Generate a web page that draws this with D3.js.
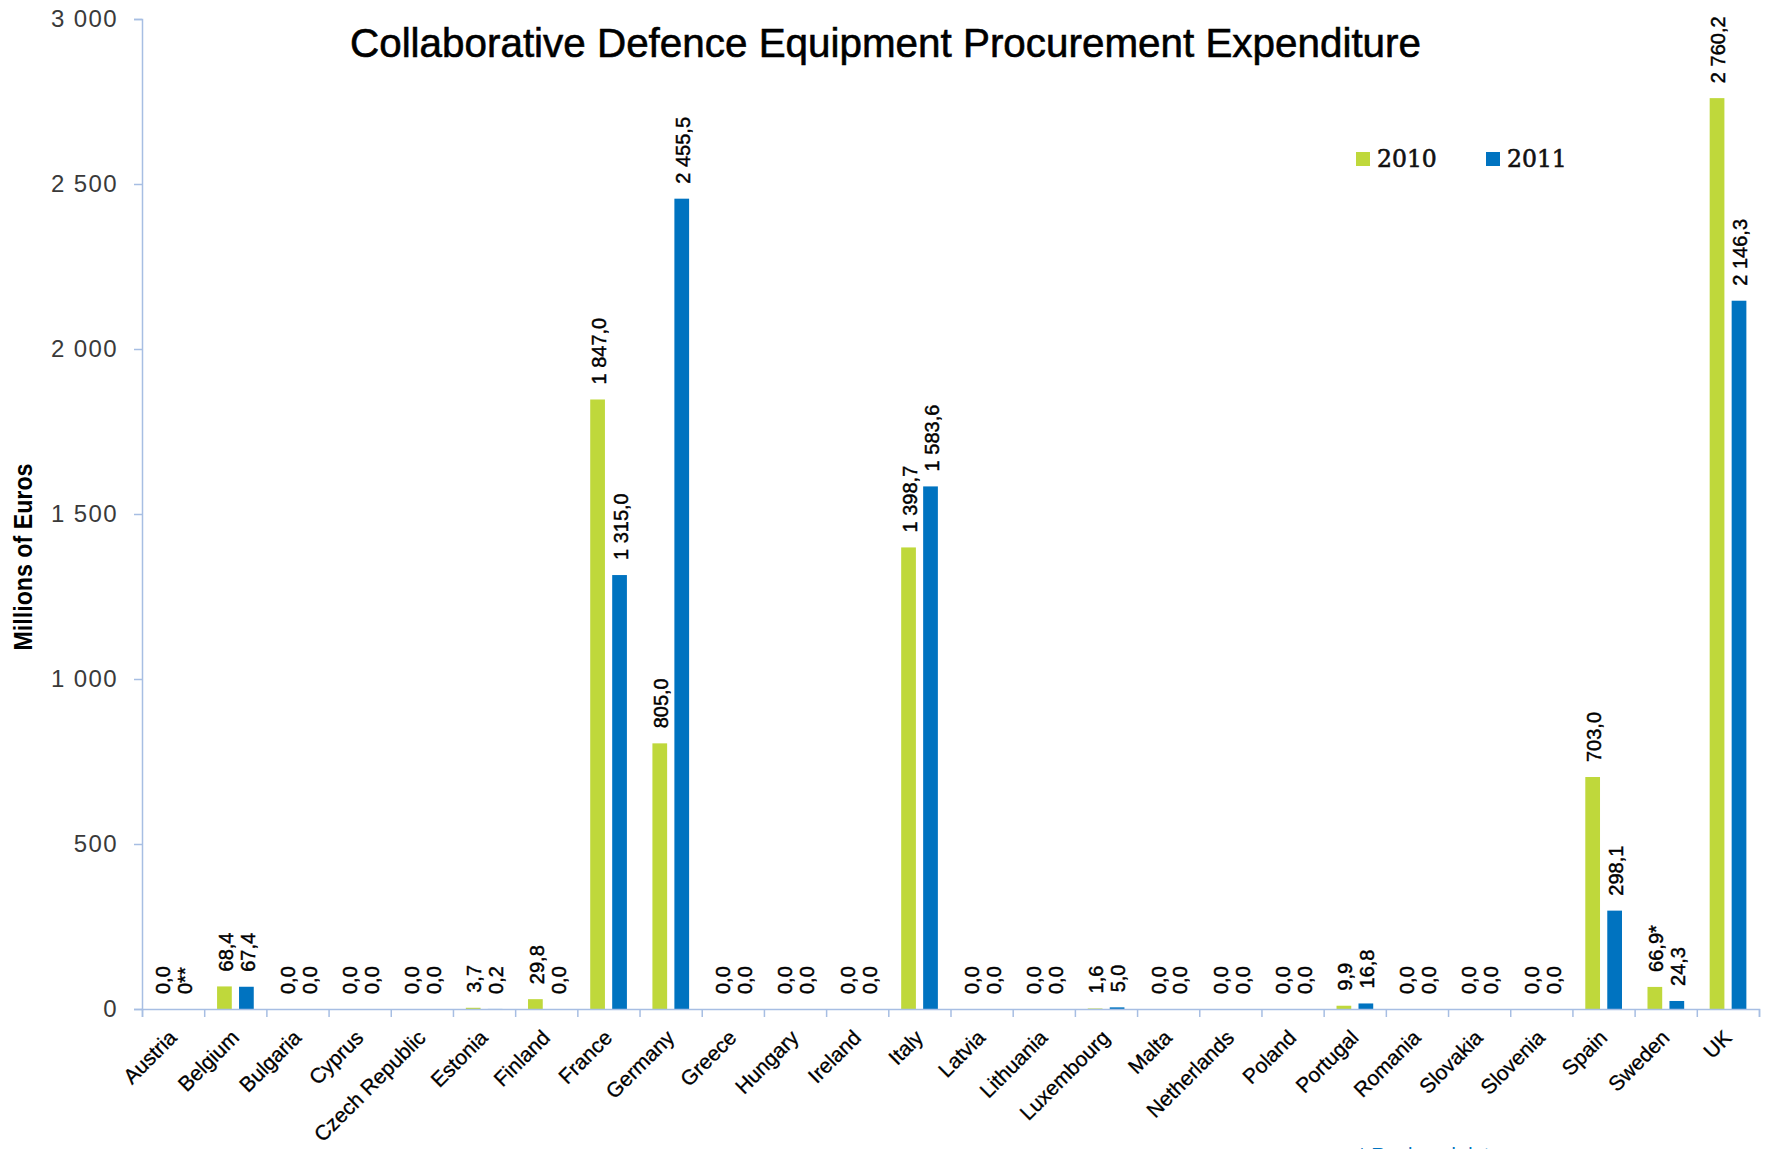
<!DOCTYPE html>
<html>
<head>
<meta charset="utf-8">
<script src="https://cdn.jsdelivr.net/npm/d3@7"></script>
<style>
  html, body { margin: 0; padding: 0; background: #fff; overflow: hidden; }
  svg { display: block; }
</style>
</head>
<body>
<svg id="chart" width="1765" height="1149"></svg>
<script>
const countries = ["Austria","Belgium","Bulgaria","Cyprus","Czech Republic","Estonia","Finland","France","Germany","Greece","Hungary","Ireland","Italy","Latvia","Lithuania","Luxembourg","Malta","Netherlands","Poland","Portugal","Romania","Slovakia","Slovenia","Spain","Sweden","UK"];
const values2010 = [0, 68.4, 0, 0, 0, 3.7, 29.8, 1847.0, 805.0, 0, 0, 0, 1398.7, 0, 0, 1.6, 0, 0, 0, 9.9, 0, 0, 0, 703.0, 66.9, 2760.2];
const values2011 = [0, 67.4, 0, 0, 0, 0.2, 0.0, 1315.0, 2455.5, 0, 0, 0, 1583.6, 0, 0, 5.0, 0, 0, 0, 16.8, 0, 0, 0, 298.1, 24.3, 2146.3];
const labelOverrides2010 = { "Sweden": "66,9*" };
const labelOverrides2011 = { "Austria": "0**" };
const seriesNames = ["2010", "2011"];
const yTicks = [0, 500, 1000, 1500, 2000, 2500, 3000];
const titleText = "Collaborative Defence Equipment Procurement Expenditure";
const yAxisTitle = "Millions of Euros";
const footnote = "* Replaced data";

(function () {
const colors = { "2010": "#bfd83b", "2011": "#0073c0" };
const axisColor = "#a7bee3";

const svg = d3.select("#chart");
const plotLeft = 142, plotRight = 1759, plotTop = 19, plotBottom = 1009;

const x0 = d3.scaleBand().domain(countries).range([plotLeft, plotRight]).padding(0);
const step = x0.step();
const x1 = d3.scaleBand().domain(seriesNames)
  .range([step * 0.207, step * 0.797]).paddingInner(0.33).paddingOuter(0);
const y = d3.scaleLinear().domain([0, 3000]).range([plotBottom, plotTop]);

const loc = d3.formatLocale({ decimal: ",", thousands: "\u00a0", grouping: [3], currency: ["", ""] });
const fmtVal = loc.format(",.1f");
const fmtTick = loc.format(",.0f");

// Title
svg.append("text")
  .attr("x", 350).attr("y", 57)
  .attr("textLength", 1071).attr("lengthAdjust", "spacingAndGlyphs")
  .style("font-family", "'Liberation Sans Narrow', 'Liberation Sans', Arial, sans-serif")
  .style("font-size", "41px").style("fill", "#000")
  .style("stroke", "#000").style("stroke-width", "0.6px")
  .text(titleText);

// Y axis
const yAxis = d3.axisLeft(y).tickValues(yTicks).tickSize(8).tickPadding(16)
  .tickFormat(d => fmtTick(d).replace(/\u00a0/g, " "));
const gy = svg.append("g").attr("transform", `translate(${plotLeft},0)`).call(yAxis);
gy.select(".domain").attr("stroke", axisColor).attr("stroke-width", 1.5);
gy.selectAll(".tick line").attr("stroke", axisColor).attr("stroke-width", 1.5);
gy.selectAll(".tick text")
  .style("font-family", "'Liberation Sans', Arial, sans-serif")
  .style("font-size", "24px").style("letter-spacing", "1.4px")
  .style("fill", "#3a3a3a");

// Y axis title
svg.append("text")
  .attr("transform", "translate(32,557) rotate(-90)")
  .attr("text-anchor", "middle")
  .attr("textLength", 187).attr("lengthAdjust", "spacingAndGlyphs")
  .style("font-family", "'Liberation Sans Narrow', 'Liberation Sans', Arial, sans-serif")
  .style("font-size", "25px").style("font-weight", "bold").style("fill", "#000")
  .text(yAxisTitle);

// Bars
const data = countries.map((c, i) => ({
  country: c,
  vals: [
    { key: "2010", value: values2010[i], label: labelOverrides2010[c] || fmtVal(values2010[i]).replace(/\u00a0/g, " ") },
    { key: "2011", value: values2011[i], label: labelOverrides2011[c] || fmtVal(values2011[i]).replace(/\u00a0/g, " ") }
  ]
}));

const groups = svg.append("g").selectAll("g").data(data).join("g")
  .attr("transform", d => `translate(${x0(d.country)},0)`);

groups.selectAll("rect").data(d => d.vals).join("rect")
  .attr("x", d => x1(d.key))
  .attr("width", x1.bandwidth())
  .attr("y", d => y(d.value))
  .attr("height", d => plotBottom - y(d.value))
  .attr("fill", d => colors[d.key]);

groups.selectAll("text.lbl").data(d => d.vals).join("text")
  .attr("class", "lbl")
  .attr("transform", d => `translate(${x1(d.key) + x1.bandwidth() / 2 + 1},${y(d.value) - 15}) rotate(-90)`)
  .attr("text-anchor", "start")
  .attr("dy", "0.36em")
  .style("font-family", "'Liberation Sans', Arial, sans-serif")
  .style("font-size", "20px").style("fill", "#000")
  .style("stroke", "#000").style("stroke-width", "0.45px")
  .text(d => d.label);

// X axis (category boundaries)
const xb = d3.scaleLinear().domain([0, countries.length]).range([plotLeft, plotRight]);
const xAxis = d3.axisBottom(xb).tickValues(d3.range(countries.length + 1)).tickSize(8).tickFormat("");
const gx = svg.append("g").attr("transform", `translate(0,${plotBottom})`).call(xAxis);
gx.select(".domain").attr("stroke", axisColor).attr("stroke-width", 1.5);
gx.selectAll(".tick line").attr("stroke", axisColor).attr("stroke-width", 1.5);

// Category labels
svg.append("g").selectAll("text").data(countries).join("text")
  .attr("transform", d => `translate(${x0(d) + step / 2 + 5},1039) rotate(-45)`)
  .attr("text-anchor", "end")
  .style("font-family", "'Liberation Sans', Arial, sans-serif")
  .style("font-size", "21px").style("fill", "#000")
  .style("stroke", "#000").style("stroke-width", "0.3px")
  .text(d => d);

// Legend
const legend = svg.append("g");
const legendPos = [{ key: "2010", x: 1356 }, { key: "2011", x: 1486 }];
legendPos.forEach(p => {
  legend.append("rect").attr("x", p.x).attr("y", 152).attr("width", 14).attr("height", 14).attr("fill", colors[p.key]);
  legend.append("text").attr("x", p.x + 21).attr("y", 167)
    .style("font-family", "'DejaVu Serif', 'Liberation Serif', serif")
    .style("font-size", "23.5px").style("fill", "#111")
    .style("stroke", "#111").style("stroke-width", "0.6px")
    .text(p.key);
});

// Footnote (cut off at the bottom edge, as in the reference)
svg.append("text")
  .attr("x", 1358).attr("y", 1162)
  .style("font-family", "'Liberation Sans', Arial, sans-serif")
  .style("font-size", "20px").style("fill", "#0073c0")
  .text(footnote);
})();
</script>
</body>
</html>
